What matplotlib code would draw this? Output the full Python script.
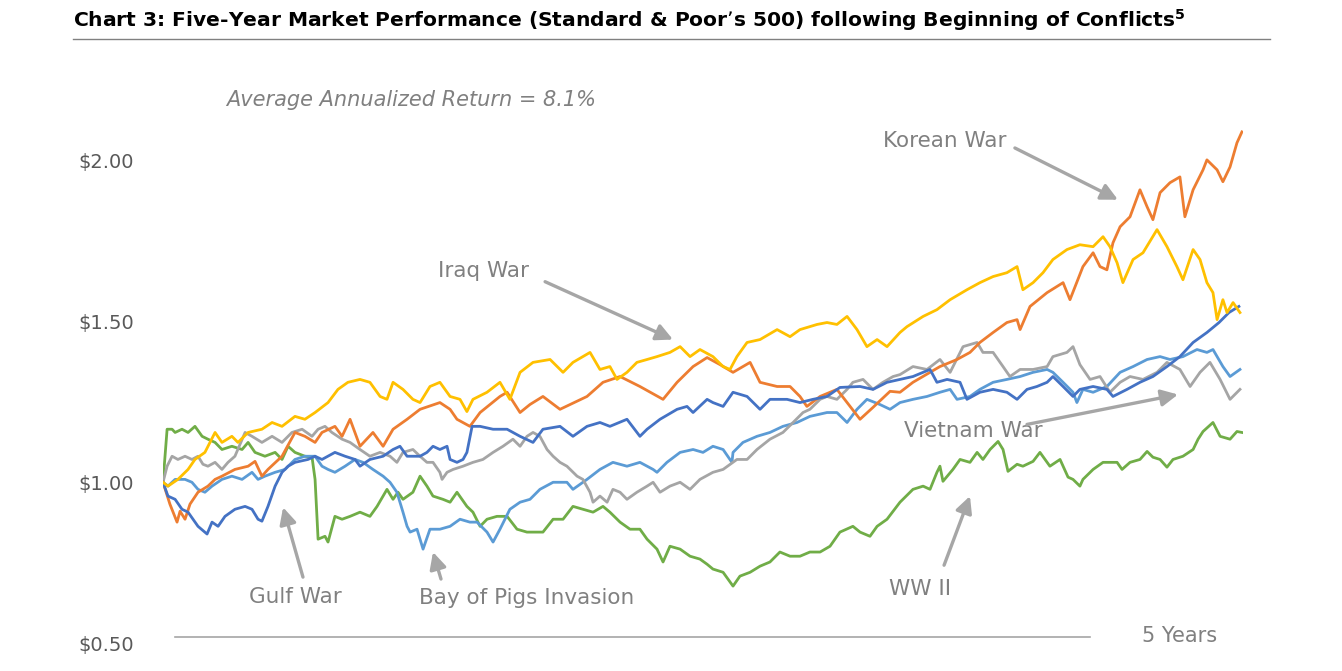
import matplotlib
matplotlib.use('Agg')
import matplotlib.pyplot as plt
from matplotlib.lines import Line2D

# years since start of conflict / growth of $1 (S&P 500)
korean_t = [0.000,0.032,0.065,0.079,0.102,0.125,0.162,0.208,0.241,0.273,0.333,0.394,0.426,0.458,0.486,0.551,0.611,0.657,0.704,0.736,
            0.796,0.829,0.866,0.912,0.972,1.019,1.065,1.130,1.190,1.282,1.329,1.361,1.421,1.468,1.560,1.593,1.653,1.699,1.759,1.838,
            1.963,2.037,2.116,2.208,2.315,2.380,2.454,2.519,2.579,2.639,2.718,2.764,2.843,2.903,2.949,2.981,3.042,3.120,3.181,3.227,
            3.287,3.366,3.412,3.472,3.551,3.597,3.676,3.736,3.782,3.843,3.907,3.954,3.968,4.014,4.093,4.167,4.199,4.259,4.306,4.338,
            4.370,4.398,4.431,4.477,4.523,4.556,4.583,4.616,4.662,4.708,4.731,4.769,4.815,4.833,4.880,4.907,4.940,4.972,4.995]
korean_v = [1.000,0.932,0.876,0.910,0.885,0.932,0.969,0.988,1.009,1.019,1.040,1.050,1.065,1.019,1.040,1.081,1.155,1.143,1.124,1.155,
            1.174,1.143,1.196,1.112,1.155,1.112,1.165,1.196,1.227,1.248,1.227,1.196,1.174,1.217,1.267,1.280,1.217,1.242,1.267,1.227,
            1.267,1.311,1.329,1.298,1.258,1.311,1.360,1.388,1.366,1.342,1.373,1.311,1.298,1.298,1.267,1.236,1.267,1.289,1.236,1.196,
            1.233,1.283,1.280,1.311,1.342,1.360,1.382,1.404,1.435,1.466,1.497,1.506,1.475,1.547,1.590,1.621,1.568,1.671,1.714,1.671,
            1.661,1.745,1.795,1.826,1.910,1.857,1.817,1.901,1.932,1.950,1.826,1.910,1.972,2.003,1.972,1.935,1.981,2.056,2.090]

iraq_t = [0,0.023,0.069,0.116,0.148,0.194,0.241,0.273,0.319,0.347,0.394,0.458,0.505,0.551,0.611,0.657,0.704,0.764,0.810,0.856,
          0.912,0.958,1.005,1.037,1.065,1.111,1.157,1.190,1.236,1.282,1.329,1.375,1.407,1.435,1.500,1.560,1.606,1.653,1.713,1.792,
          1.852,1.898,1.977,2.023,2.069,2.102,2.148,2.194,2.241,2.287,2.347,2.394,2.440,2.486,2.546,2.593,2.625,2.657,2.704,2.764,
          2.843,2.903,2.949,3.028,3.074,3.120,3.167,3.213,3.259,3.306,3.352,3.412,3.444,3.519,3.583,3.644,3.722,3.782,3.843,3.907,
          3.954,3.981,4.028,4.074,4.120,4.185,4.245,4.306,4.352,4.384,4.417,4.444,4.491,4.537,4.602,4.648,4.694,4.722,4.769,4.801,
          4.833,4.861,4.880,4.907,4.926,4.954,4.986]
iraq_v = [1.000,0.988,1.009,1.040,1.071,1.093,1.155,1.124,1.143,1.124,1.155,1.165,1.186,1.174,1.205,1.196,1.217,1.248,1.289,1.311,
          1.320,1.311,1.267,1.258,1.311,1.289,1.258,1.248,1.298,1.311,1.267,1.258,1.220,1.258,1.280,1.311,1.258,1.342,1.373,1.382,
          1.342,1.373,1.404,1.351,1.360,1.320,1.342,1.373,1.382,1.391,1.404,1.422,1.391,1.413,1.391,1.360,1.351,1.391,1.435,1.444,
          1.475,1.453,1.475,1.491,1.497,1.491,1.516,1.475,1.422,1.444,1.422,1.466,1.484,1.516,1.537,1.568,1.599,1.621,1.640,1.652,
          1.671,1.599,1.621,1.652,1.693,1.724,1.739,1.733,1.764,1.733,1.683,1.621,1.693,1.714,1.786,1.733,1.671,1.630,1.724,1.693,
          1.621,1.590,1.506,1.568,1.528,1.559,1.528]

gulf_t = [0,0.023,0.056,0.088,0.116,0.162,0.204,0.227,0.255,0.287,0.333,0.380,0.412,0.440,0.458,0.486,0.519,0.551,0.579,0.611,
          0.671,0.704,0.736,0.796,0.843,0.889,0.912,0.958,1.019,1.065,1.097,1.130,1.190,1.222,1.250,1.282,1.315,1.329,1.361,1.389,
          1.407,1.431,1.468,1.528,1.593,1.653,1.713,1.759,1.838,1.898,1.963,2.023,2.069,2.148,2.208,2.241,2.301,2.380,2.426,2.454,
          2.519,2.546,2.593,2.639,2.704,2.764,2.810,2.889,2.949,3.009,3.074,3.134,3.227,3.287,3.352,3.412,3.472,3.551,3.583,3.630,
          3.690,3.722,3.782,3.843,3.907,3.954,4.000,4.046,4.093,4.120,4.167,4.213,4.245,4.306,4.370,4.398,4.463,4.523,4.583,4.648,
          4.708,4.769,4.833,4.889,4.935,4.981]
gulf_v = [1.000,0.957,0.947,0.916,0.907,0.863,0.839,0.876,0.863,0.894,0.916,0.925,0.916,0.885,0.879,0.925,0.988,1.031,1.050,1.062,
          1.071,1.081,1.071,1.093,1.081,1.071,1.050,1.071,1.081,1.102,1.112,1.081,1.081,1.093,1.112,1.102,1.112,1.071,1.062,1.071,
          1.093,1.174,1.174,1.165,1.165,1.143,1.124,1.165,1.174,1.143,1.174,1.186,1.174,1.196,1.143,1.165,1.196,1.227,1.236,1.217,
          1.258,1.248,1.236,1.280,1.267,1.227,1.258,1.258,1.248,1.258,1.267,1.295,1.298,1.289,1.311,1.320,1.329,1.351,1.311,1.320,
          1.311,1.258,1.280,1.289,1.280,1.258,1.289,1.298,1.311,1.329,1.298,1.267,1.289,1.298,1.289,1.267,1.289,1.311,1.329,1.360,
          1.391,1.435,1.466,1.497,1.528,1.547]

bay_t = [0,0.023,0.056,0.102,0.134,0.162,0.194,0.227,0.273,0.319,0.366,0.412,0.440,0.472,0.519,0.565,0.611,0.657,0.704,0.736,
         0.764,0.796,0.843,0.889,0.926,0.972,1.019,1.051,1.083,1.097,1.111,1.130,1.144,1.176,1.204,1.236,1.282,1.329,1.375,1.421,
         1.454,1.500,1.528,1.560,1.606,1.653,1.699,1.745,1.806,1.870,1.898,1.963,2.023,2.083,2.148,2.208,2.269,2.287,2.333,2.394,
         2.454,2.500,2.546,2.593,2.634,2.639,2.685,2.750,2.810,2.870,2.935,2.995,3.074,3.120,3.167,3.213,3.259,3.319,3.366,3.412,
         3.472,3.537,3.597,3.644,3.676,3.736,3.782,3.843,3.907,3.968,4.028,4.093,4.120,4.167,4.213,4.231,4.259,4.306,4.370,4.431,
         4.491,4.556,4.616,4.662,4.722,4.787,4.833,4.861,4.907,4.940,4.986]
bay_v = [1.000,0.988,1.009,1.009,1.000,0.978,0.969,0.988,1.009,1.019,1.009,1.031,1.009,1.019,1.031,1.040,1.071,1.081,1.081,1.050,
         1.040,1.031,1.050,1.071,1.062,1.040,1.019,1.000,0.969,0.938,0.907,0.863,0.845,0.854,0.792,0.854,0.854,0.863,0.885,0.876,
         0.876,0.845,0.814,0.854,0.916,0.938,0.947,0.978,1.000,1.000,0.978,1.009,1.040,1.062,1.050,1.062,1.040,1.031,1.062,1.093,
         1.102,1.093,1.112,1.102,1.062,1.093,1.124,1.143,1.155,1.174,1.186,1.205,1.217,1.217,1.186,1.227,1.258,1.242,1.227,1.248,
         1.258,1.267,1.280,1.289,1.258,1.267,1.289,1.311,1.320,1.329,1.342,1.351,1.342,1.311,1.280,1.248,1.289,1.280,1.298,1.342,
         1.360,1.382,1.391,1.382,1.391,1.413,1.404,1.413,1.360,1.329,1.351]

vietnam_t = [0,0.019,0.042,0.069,0.102,0.134,0.162,0.185,0.208,0.241,0.273,0.301,0.333,0.380,0.412,0.458,0.505,0.551,0.597,0.644,
             0.690,0.718,0.750,0.782,0.829,0.866,0.912,0.958,1.005,1.051,1.083,1.111,1.157,1.190,1.222,1.250,1.282,1.292,1.315,1.343,
             1.389,1.435,1.481,1.528,1.574,1.620,1.653,1.685,1.713,1.745,1.778,1.806,1.838,1.870,1.917,1.944,1.977,1.991,2.023,2.056,
             2.083,2.116,2.148,2.194,2.241,2.269,2.301,2.347,2.394,2.440,2.486,2.546,2.593,2.657,2.704,2.750,2.810,2.870,2.917,2.963,
             2.995,3.042,3.074,3.120,3.167,3.194,3.241,3.287,3.333,3.380,3.412,3.472,3.537,3.597,3.644,3.704,3.769,3.796,3.843,3.889,
             3.921,3.968,4.028,4.093,4.120,4.185,4.213,4.245,4.292,4.338,4.384,4.431,4.477,4.537,4.602,4.648,4.708,4.755,4.801,4.847,
             4.894,4.940,4.986]
vietnam_v = [1.000,1.050,1.081,1.071,1.081,1.071,1.081,1.056,1.050,1.062,1.040,1.062,1.081,1.155,1.143,1.124,1.143,1.124,1.155,1.165,
             1.143,1.165,1.174,1.155,1.134,1.124,1.102,1.081,1.093,1.081,1.062,1.093,1.102,1.081,1.062,1.062,1.031,1.009,1.031,1.040,
             1.050,1.062,1.071,1.093,1.112,1.134,1.112,1.143,1.155,1.143,1.102,1.081,1.062,1.050,1.019,1.009,0.969,0.938,0.957,0.938,
             0.978,0.969,0.947,0.969,0.988,1.000,0.969,0.988,1.000,0.978,1.009,1.031,1.040,1.071,1.071,1.102,1.134,1.155,1.186,1.217,
             1.227,1.258,1.267,1.258,1.289,1.311,1.320,1.289,1.311,1.329,1.335,1.360,1.351,1.382,1.342,1.422,1.435,1.404,1.404,1.360,
             1.329,1.351,1.351,1.360,1.391,1.404,1.422,1.366,1.320,1.329,1.280,1.311,1.329,1.320,1.342,1.373,1.351,1.298,1.342,1.373,
             1.320,1.258,1.289]

ww2_t = [0,0.019,0.042,0.056,0.088,0.116,0.148,0.181,0.208,0.241,0.273,0.319,0.366,0.394,0.426,0.472,0.519,0.551,0.579,0.611,
         0.657,0.690,0.704,0.718,0.750,0.764,0.796,0.829,0.866,0.912,0.958,0.991,1.019,1.037,1.065,1.088,1.111,1.157,1.190,1.222,
         1.250,1.296,1.329,1.361,1.407,1.435,1.468,1.500,1.546,1.593,1.639,1.685,1.759,1.806,1.852,1.898,1.944,1.991,2.037,2.069,
         2.116,2.162,2.208,2.241,2.287,2.315,2.347,2.394,2.440,2.486,2.519,2.546,2.593,2.639,2.671,2.718,2.764,2.810,2.856,2.903,
         2.949,2.995,3.042,3.088,3.134,3.194,3.227,3.273,3.306,3.352,3.412,3.472,3.519,3.551,3.583,3.597,3.611,3.657,3.690,3.736,
         3.769,3.796,3.829,3.866,3.889,3.912,3.954,3.981,4.028,4.060,4.106,4.153,4.190,4.213,4.245,4.259,4.306,4.352,4.417,4.440,
         4.477,4.523,4.556,4.583,4.616,4.648,4.676,4.722,4.769,4.792,4.815,4.861,4.894,4.940,4.972,4.995]
ww2_v = [1.000,1.165,1.165,1.155,1.165,1.155,1.174,1.143,1.134,1.124,1.102,1.112,1.102,1.124,1.093,1.081,1.093,1.071,1.112,1.093,
         1.081,1.078,1.009,0.823,0.832,0.814,0.894,0.885,0.894,0.907,0.894,0.925,0.957,0.978,0.947,0.969,0.947,0.969,1.019,0.988,
         0.957,0.947,0.938,0.969,0.925,0.907,0.863,0.885,0.894,0.894,0.854,0.845,0.845,0.885,0.885,0.925,0.916,0.907,0.925,0.907,
         0.876,0.854,0.854,0.823,0.792,0.752,0.801,0.792,0.770,0.761,0.745,0.730,0.720,0.677,0.708,0.720,0.739,0.752,0.783,0.770,
         0.770,0.783,0.783,0.801,0.845,0.863,0.845,0.832,0.863,0.885,0.938,0.978,0.988,0.978,1.031,1.050,1.003,1.040,1.071,1.062,
         1.093,1.071,1.102,1.127,1.102,1.034,1.056,1.050,1.065,1.093,1.050,1.071,1.016,1.009,0.988,1.009,1.040,1.062,1.062,1.040,
         1.062,1.071,1.096,1.078,1.071,1.047,1.071,1.081,1.102,1.134,1.158,1.186,1.143,1.134,1.158,1.155]

yticks = [0.5, 1.0, 1.5, 2.0]
ytick_labels = ['$0.50', '$1.00', '$1.50', '$2.00']

W, H = 1342, 671
fig = plt.figure(figsize=(W / 100, H / 100), dpi=100)
ax = fig.add_axes([163 / W, 28 / H, 1080 / W, 583 / H])
ax.set_xlim(0, 5)
ax.set_ylim(0.5, 2.3137)
for s in ax.spines.values():
    s.set_visible(False)
ax.set_xticks([])
ax.set_yticks(yticks)
ax.set_yticklabels(ytick_labels, fontsize=14, color='#595959')
ax.tick_params(axis='y', length=0, pad=21)

lw = 2.0
ax.plot(ww2_t, ww2_v, color='#70AD47', lw=lw)
ax.plot(bay_t, bay_v, color='#5B9BD5', lw=lw)
ax.plot(vietnam_t, vietnam_v, color='#A5A5A5', lw=lw)
ax.plot(korean_t, korean_v, color='#ED7D31', lw=lw)
ax.plot(gulf_t, gulf_v, color='#4472C4', lw=lw)
ax.plot(iraq_t, iraq_v, color='#FFC000', lw=lw)

# labels with arrows
lbl = dict(fontsize=15.5, color='#808080', ha='center', va='center')
arr = dict(arrowstyle='-|>,head_length=1.0,head_width=0.5', color='#A6A6A6', lw=2.4, shrinkA=0, shrinkB=0)
ax.text(3.620, 2.062, 'Korean War', **lbl)
ax.annotate('', xy=(4.421, 1.879), xytext=(3.944, 2.040), arrowprops=arr)
ax.text(1.486, 1.658, 'Iraq War', **lbl)
ax.annotate('', xy=(2.361, 1.444), xytext=(1.769, 1.624), arrowprops=arr)
ax.text(3.750, 1.158, 'Vietnam War', **lbl)
ax.annotate('', xy=(4.699, 1.273), xytext=(4.000, 1.180), arrowprops=arr)
ax.text(0.611, 0.643, 'Gulf War', **lbl)
ax.annotate('', xy=(0.556, 0.922), xytext=(0.648, 0.705), arrowprops=arr)
ax.text(1.685, 0.640, 'Bay of Pigs Invasion', **lbl)
ax.annotate('', xy=(1.250, 0.783), xytext=(1.287, 0.699), arrowprops=arr)
ax.text(3.505, 0.668, 'WW II', **lbl)
ax.annotate('', xy=(3.736, 0.957), xytext=(3.616, 0.742), arrowprops=arr)

ax.text(0.292, 2.189, 'Average Annualized Return = 8.1%', fontsize=15, color='#808080',
        style='italic', ha='left', va='center')
ax.plot([0.056, 4.292], [0.519, 0.519], color='#A6A6A6', lw=1.2, clip_on=False)
ax.text(4.532, 0.522, '5 Years', fontsize=15, color='#808080', ha='left', va='center')

fig.text(73 / W, 1 - 20 / H,
         "Chart 3: Five-Year Market Performance (Standard & Poor\u2019s 500) following Beginning of Conflicts$^{\\mathbf{5}}$",
         fontsize=14.6, fontweight='bold', color='black', ha='left', va='center')
fig.add_artist(Line2D([73 / W, 1270 / W], [1 - 39 / H, 1 - 39 / H], color='#808080', lw=1))

fig.savefig('out.png', dpi=100)
